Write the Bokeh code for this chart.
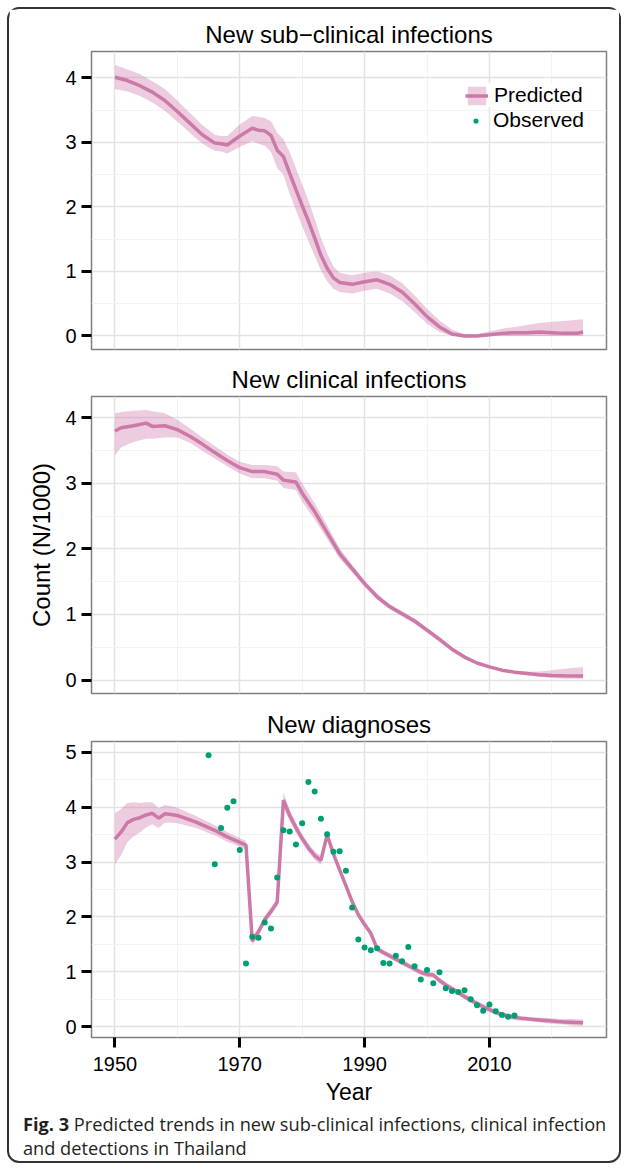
from bokeh.plotting import figure
from bokeh.models import FixedTicker, Legend, LegendItem, Div, Range1d
from bokeh.layouts import column
from bokeh.embed import file_html
from bokeh.resources import INLINE

# ---------------- data ----------------
# Panel 1: new sub-clinical infections (N/1000)
sub_years = [1950, 1952, 1954, 1956, 1958, 1960, 1962, 1964, 1966, 1967, 1968, 1970, 1972, 1973,
             1974, 1975, 1976, 1977, 1978, 1979, 1980, 1981, 1982, 1983, 1984, 1985, 1986, 1988,
             1990, 1992, 1994, 1996, 1998, 2000, 2002, 2004, 2006, 2008, 2010, 2012, 2014, 2016,
             2018, 2020, 2022, 2024, 2025]
sub_pred = [4.01, 3.96, 3.88, 3.78, 3.65, 3.48, 3.30, 3.12, 2.99, 2.98, 2.96, 3.10, 3.22, 3.19,
            3.18, 3.11, 2.88, 2.78, 2.52, 2.27, 2.02, 1.78, 1.52, 1.25, 1.05, 0.90, 0.83, 0.80,
            0.84, 0.87, 0.80, 0.68, 0.50, 0.30, 0.14, 0.03, 0.00, 0.00, 0.02, 0.04, 0.05, 0.05,
            0.06, 0.05, 0.04, 0.04, 0.06]
sub_hi = [4.20, 4.13, 4.06, 3.95, 3.83, 3.65, 3.46, 3.27, 3.12, 3.10, 3.10, 3.28, 3.41, 3.40,
          3.38, 3.33, 3.15, 3.05, 2.85, 2.60, 2.35, 2.10, 1.82, 1.52, 1.28, 1.08, 0.98, 0.94,
          0.98, 1.00, 0.94, 0.82, 0.63, 0.42, 0.24, 0.10, 0.03, 0.03, 0.07, 0.11, 0.14, 0.17,
          0.20, 0.22, 0.23, 0.25, 0.26]
sub_lo = [3.83, 3.79, 3.72, 3.62, 3.49, 3.32, 3.15, 2.98, 2.87, 2.86, 2.83, 2.93, 3.02, 2.98,
          2.95, 2.85, 2.60, 2.50, 2.20, 1.95, 1.70, 1.47, 1.24, 1.02, 0.85, 0.73, 0.68, 0.66,
          0.70, 0.73, 0.66, 0.54, 0.37, 0.19, 0.06, 0.00, 0.00, 0.00, 0.00, 0.00, 0.00, 0.00,
          0.00, 0.00, 0.00, 0.00, 0.00]

# Panel 2: new clinical infections
cli_years = [1950, 1951, 1953, 1955, 1956, 1958, 1960, 1962, 1964, 1966, 1968, 1970, 1972, 1974,
             1976, 1977, 1979, 1980, 1982, 1984, 1986, 1988, 1990, 1992, 1994, 1996, 1998, 2000,
             2002, 2004, 2006, 2008, 2010, 2012, 2014, 2016, 2018, 2020, 2022, 2025]
cli_pred = [3.80, 3.85, 3.88, 3.92, 3.87, 3.88, 3.82, 3.72, 3.60, 3.47, 3.35, 3.24, 3.18, 3.18,
            3.14, 3.05, 3.02, 2.85, 2.57, 2.25, 1.93, 1.70, 1.47, 1.27, 1.12, 1.01, 0.90, 0.76,
            0.62, 0.47, 0.35, 0.26, 0.20, 0.15, 0.12, 0.10, 0.08, 0.07, 0.065, 0.06]
cli_hi = [4.07, 4.09, 4.11, 4.12, 4.10, 4.07, 3.97, 3.84, 3.70, 3.57, 3.44, 3.33, 3.28, 3.28,
          3.26, 3.18, 3.17, 3.00, 2.70, 2.36, 2.01, 1.76, 1.52, 1.32, 1.16, 1.05, 0.94, 0.80,
          0.66, 0.50, 0.38, 0.28, 0.22, 0.17, 0.14, 0.13, 0.13, 0.15, 0.17, 0.20]
cli_lo = [3.42, 3.55, 3.63, 3.68, 3.68, 3.70, 3.70, 3.62, 3.50, 3.38, 3.26, 3.15, 3.08, 3.08,
          3.04, 2.93, 2.90, 2.72, 2.45, 2.15, 1.85, 1.64, 1.42, 1.23, 1.08, 0.97, 0.86, 0.72,
          0.58, 0.44, 0.32, 0.24, 0.18, 0.13, 0.10, 0.08, 0.05, 0.03, 0.02, 0.02]

# Panel 3: new diagnoses
dia_years = list(range(1950, 2026))
dia_pred = [3.42, 3.55, 3.72, 3.78, 3.81, 3.86, 3.89, 3.80, 3.88, 3.87,
            3.85, 3.81, 3.77, 3.73, 3.68, 3.63, 3.58, 3.52, 3.46, 3.41,
            3.36, 3.31, 1.56, 1.73, 1.95, 2.10, 2.27, 4.13, 3.85, 3.63,
            3.43, 3.26, 3.12, 3.03, 3.50, 3.15, 2.86, 2.57, 2.28, 2.04,
            1.86, 1.70, 1.42, 1.35, 1.29, 1.23, 1.17, 1.11, 1.05, 0.99,
            0.95, 0.94, 0.84, 0.76, 0.69, 0.62, 0.55, 0.48, 0.42, 0.36,
            0.31, 0.26, 0.22, 0.19, 0.17, 0.15, 0.14, 0.13, 0.12, 0.11,
            0.10, 0.09, 0.085, 0.08, 0.075, 0.07]
dia_halfwidth = [0.47, 0.42, 0.36, 0.31, 0.27, 0.23, 0.20, 0.18, 0.16, 0.15,
                 0.14, 0.13, 0.12, 0.11, 0.10, 0.10, 0.09, 0.09, 0.09, 0.08,
                 0.08, 0.08, 0.08, 0.07, 0.07, 0.07, 0.07, 0.14, 0.10, 0.09,
                 0.08, 0.08, 0.08, 0.08, 0.08, 0.07, 0.06, 0.06, 0.06, 0.06,
                 0.06, 0.06, 0.05, 0.05, 0.05, 0.05, 0.05, 0.05, 0.05, 0.05,
                 0.05, 0.05, 0.05, 0.05, 0.05, 0.05, 0.05, 0.05, 0.05, 0.05,
                 0.05, 0.05, 0.05, 0.05, 0.05, 0.04, 0.04, 0.04, 0.04, 0.05,
                 0.05, 0.05, 0.05, 0.06, 0.06, 0.06]
obs_years = list(range(1965, 2015))
obs_values = [4.95, 2.96, 3.62, 3.99, 4.11, 3.22, 1.15, 1.64, 1.62, 1.90,
              1.79, 2.72, 3.58, 3.56, 3.32, 3.71, 4.46, 4.29, 3.79, 3.51,
              3.19, 3.20, 2.84, 2.17, 1.59, 1.44, 1.39, 1.43, 1.16, 1.15,
              1.29, 1.19, 1.45, 1.10, 0.86, 1.03, 0.79, 0.99, 0.70, 0.65,
              0.63, 0.66, 0.50, 0.39, 0.29, 0.40, 0.28, 0.21, 0.18, 0.20]

x_major = [1950, 1970, 1990, 2010]
x_minor = [1960, 1980, 2000, 2020]
titles = ["New sub\u2212clinical infections", "New clinical infections", "New diagnoses"]

# ---------------- style ----------------
FONT = "Arial"
PINK = "#CC79A7"
GREEN = "#009E73"


def make_fig(title, height, top, bottom, y_start, y_end, y_major, y_minor, show_x):
    p = figure(width=610, height=height, output_backend="svg", toolbar_location=None,
               x_range=Range1d(1946.25, 2028.75), y_range=Range1d(y_start, y_end),
               min_border_left=82, min_border_right=13, min_border_top=top,
               min_border_bottom=bottom)
    p.title.text = title
    p.title.text_font = FONT
    p.title.text_font_size = "24px"
    p.title.text_font_style = "normal"
    p.title.text_color = "#000000"
    p.title.align = "center"
    p.title.standoff = 7
    p.outline_line_color = "#7F7F7F"
    p.outline_line_width = 1.5
    p.background_fill_color = "white"
    p.border_fill_color = "white"

    p.xaxis.ticker = FixedTicker(ticks=x_major, minor_ticks=x_minor)
    p.xgrid.ticker = FixedTicker(ticks=x_major, minor_ticks=x_minor)
    p.yaxis.ticker = FixedTicker(ticks=y_major, minor_ticks=y_minor)
    p.ygrid.ticker = FixedTicker(ticks=y_major, minor_ticks=y_minor)
    for g in (p.xgrid, p.ygrid):
        g.grid_line_color = "#E3E3E3"
        g.grid_line_width = 1.5
        g.minor_grid_line_color = "#F3F3F3"
        g.minor_grid_line_width = 1
    for ax in (p.xaxis, p.yaxis):
        ax.axis_line_color = None
        ax.major_tick_line_color = "black"
        ax.major_tick_line_width = 3
        ax.major_tick_out = 10
        ax.major_tick_in = 0
        ax.minor_tick_out = 0
        ax.minor_tick_in = 0
        ax.major_label_text_font = FONT
        ax.major_label_text_font_size = "20px"
        ax.major_label_text_color = "#000000"
        ax.major_label_standoff = 5
        ax.axis_label_text_font = FONT
        ax.axis_label_text_font_style = "normal"
        ax.axis_label_text_color = "#000000"
    p.xaxis.visible = show_x
    return p


p1 = make_fig(titles[0], 350, 42, 10, -0.21, 4.41, [0, 1, 2, 3, 4], [0.5, 1.5, 2.5, 3.5], False)
p2 = make_fig(titles[1], 345, 37, 11, -0.206, 4.326, [0, 1, 2, 3, 4], [0.5, 1.5, 2.5, 3.5], False)
p3 = make_fig(titles[2], 403, 37, 70, -0.2, 5.2, [0, 1, 2, 3, 4, 5],
              [0.5, 1.5, 2.5, 3.5, 4.5], True)

p2.yaxis.axis_label = "Count (N/1000)"
p2.yaxis.axis_label_text_font_size = "24px"
p2.yaxis.axis_label_standoff = 7
p3.xaxis.major_label_standoff = 9
p3.xaxis.axis_label = "Year"
p3.xaxis.axis_label_text_font_size = "23px"
p3.xaxis.axis_label_standoff = 5

band1 = p1.varea(x=sub_years, y1=sub_lo, y2=sub_hi, fill_color=PINK, fill_alpha=0.38)
line1 = p1.line(x=sub_years, y=sub_pred, line_color=PINK, line_width=3.5)
# no observed data in this panel: renderer only carries the legend glyph
obs1 = p1.scatter(x=[float("nan")], y=[float("nan")], size=5.5, fill_color=GREEN, line_color=None)

p2.varea(x=cli_years, y1=cli_lo, y2=cli_hi, fill_color=PINK, fill_alpha=0.38)
p2.line(x=cli_years, y=cli_pred, line_color=PINK, line_width=3.5)

dia_lo = [v - h for v, h in zip(dia_pred, dia_halfwidth)]
dia_hi = [v + h for v, h in zip(dia_pred, dia_halfwidth)]
p3.varea(x=dia_years, y1=dia_lo, y2=dia_hi, fill_color=PINK, fill_alpha=0.38)
p3.line(x=dia_years, y=dia_pred, line_color=PINK, line_width=3.5)
p3.scatter(x=obs_years, y=obs_values, size=6, fill_color=GREEN, line_color=None)

common = dict(margin=0, spacing=0, label_standoff=6, label_text_font=FONT,
              label_text_font_size="21px", label_text_color="#000000", border_line_color=None)
legend_pred = Legend(items=[LegendItem(label="Predicted", renderers=[band1, line1])],
                     location=(374, 242), padding=12, glyph_width=23, glyph_height=23,
                     label_height=23, background_fill_color="white", background_fill_alpha=1,
                     **common)
legend_obs = Legend(items=[LegendItem(label="Observed", renderers=[obs1])],
                    location=(373, 217), padding=0, glyph_width=23, glyph_height=13,
                    label_height=13, background_fill_alpha=0, **common)
p1.add_layout(legend_pred)
p1.add_layout(legend_obs)

caption = Div(
    text=('<div style="font-family:\'Open Sans\'; font-size:18.2px; line-height:24px; '
          'color:#231f20; white-space:nowrap; padding-top:5px; padding-left:14px;">'
          '<b>Fig. 3</b> Predicted trends in new sub-clinical infections, clinical infection'
          '<br>and detections in Thailand</div>'),
    width=610, height=54, margin=(0, 0, 0, 0))

layout = column(p1, p2, p3, caption, margin=(7, 0, 0, 7),
                styles={"border": "2px solid #333333", "border-radius": "12px"})

open("out.html", "w").write(file_html(layout, INLINE))
